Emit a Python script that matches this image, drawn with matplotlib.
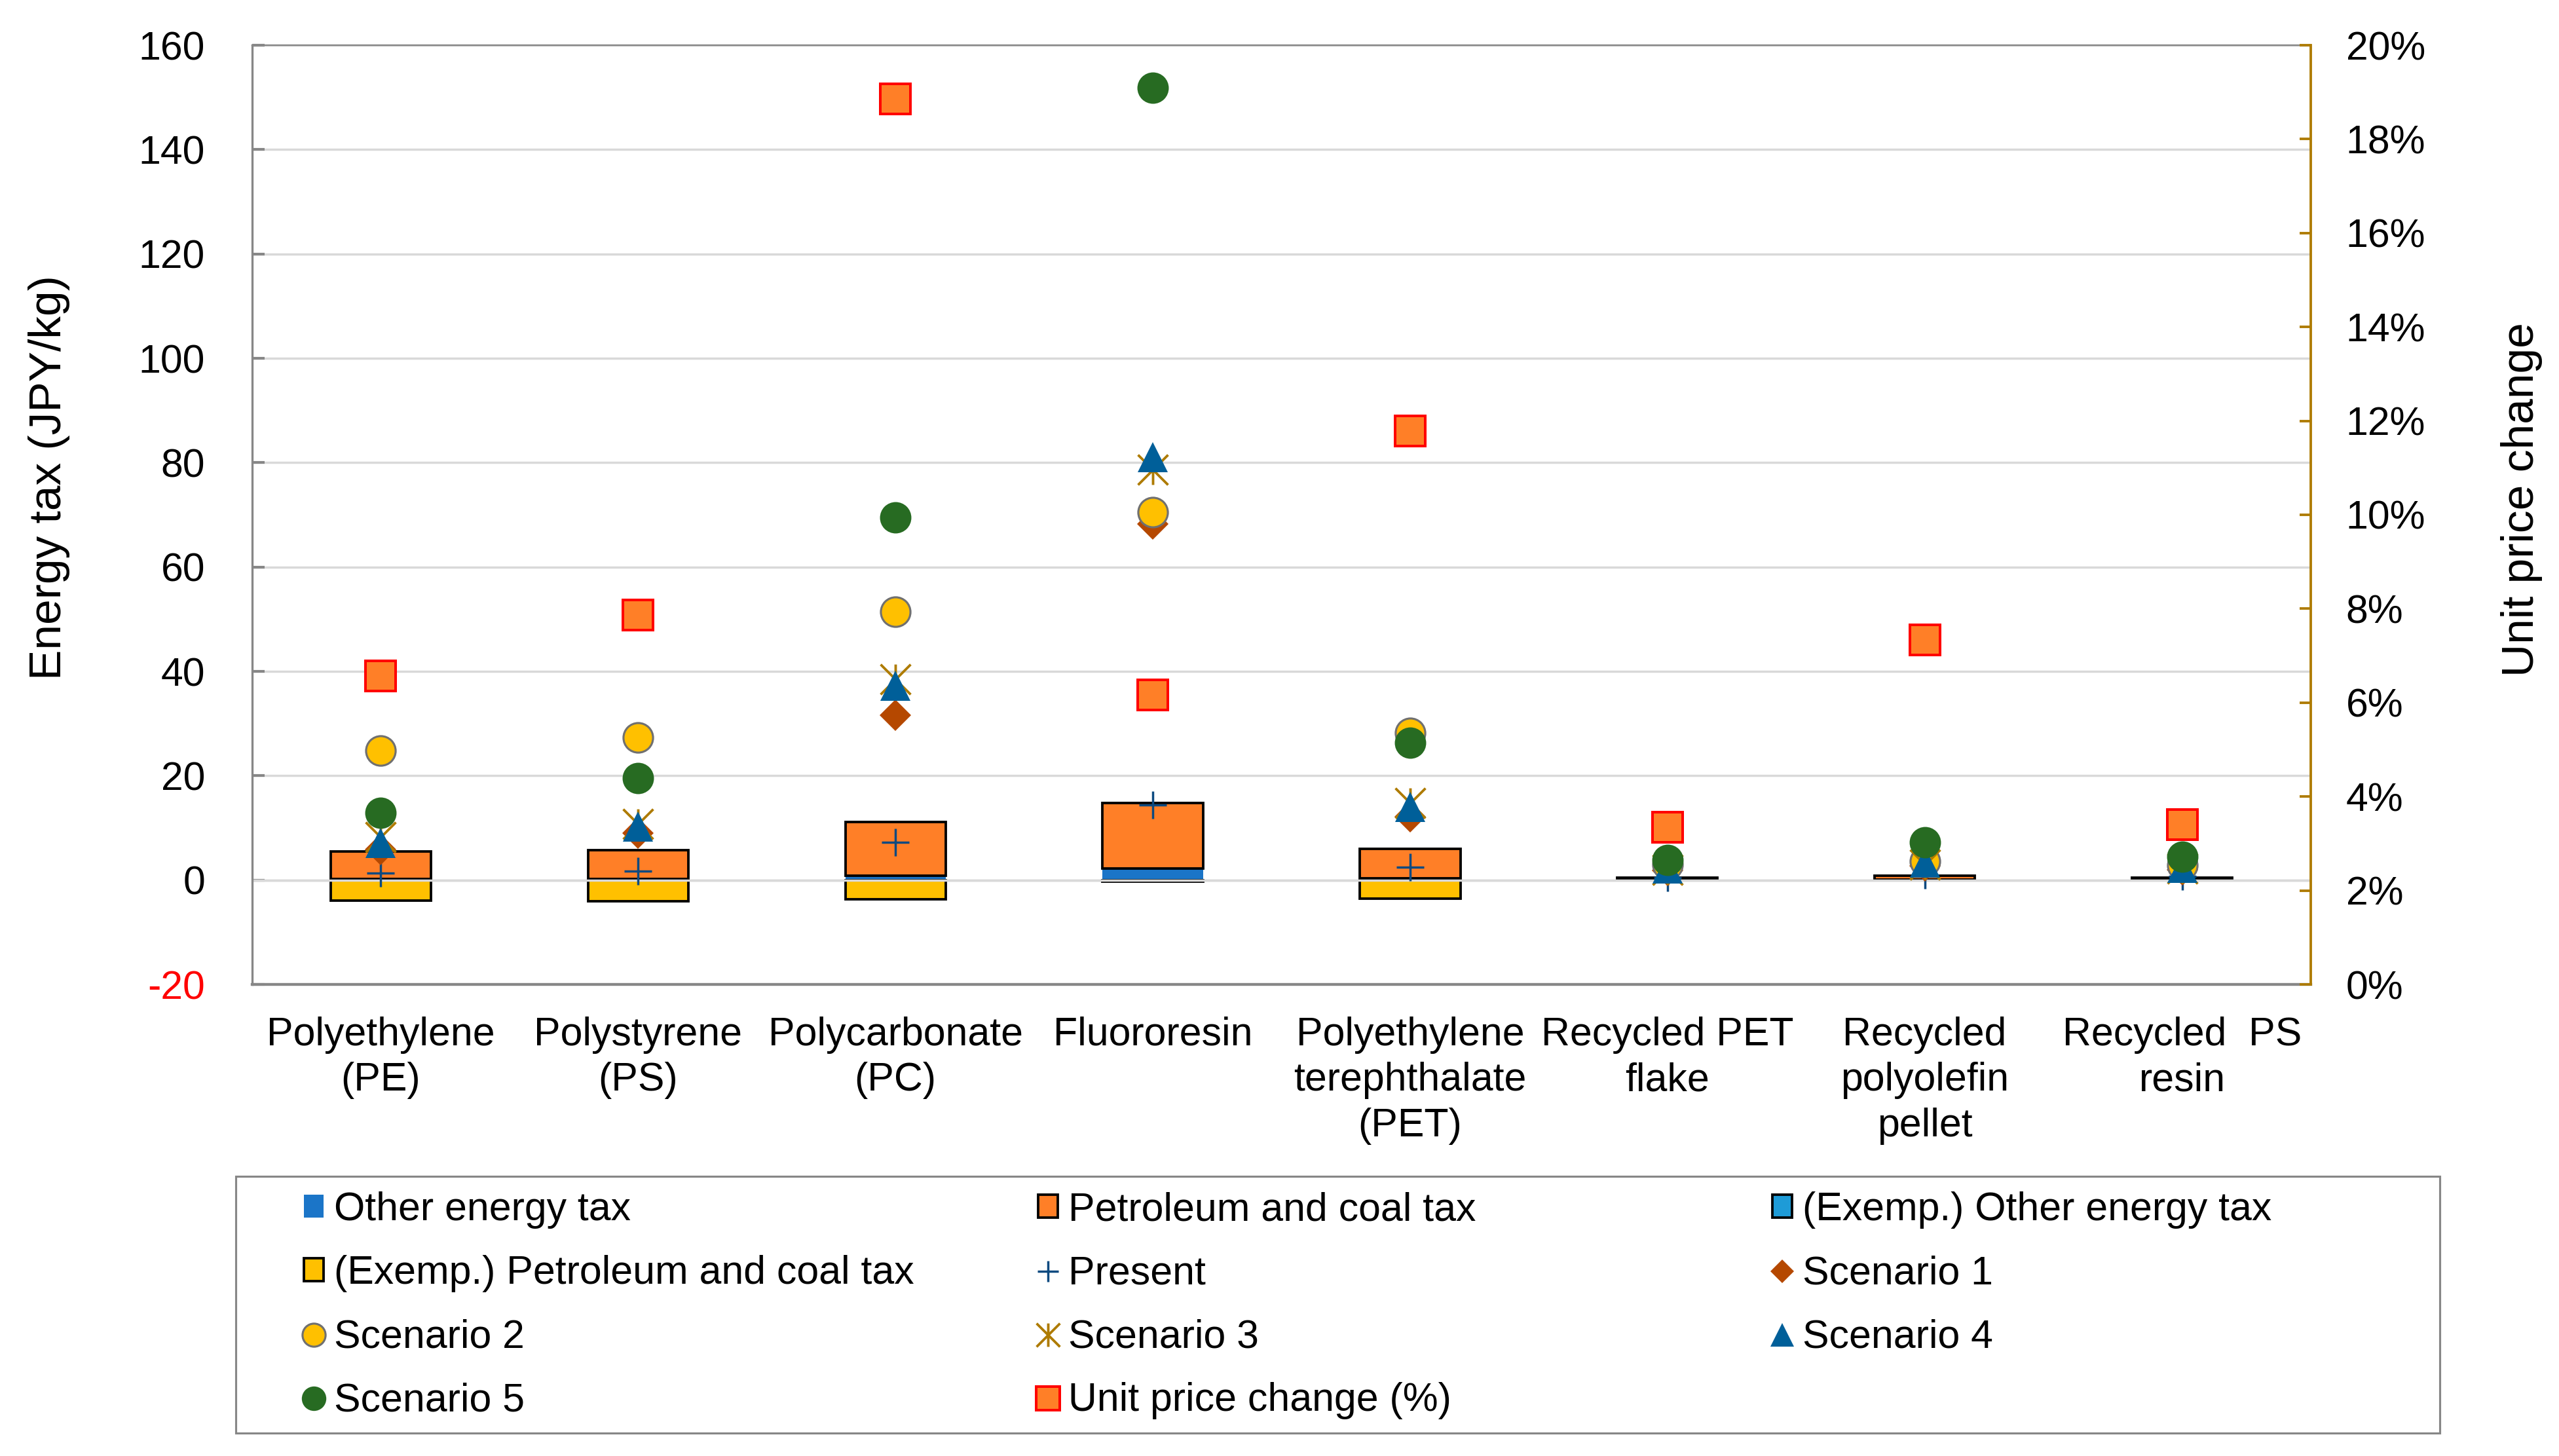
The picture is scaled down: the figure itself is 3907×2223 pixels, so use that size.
import numpy as np
import matplotlib
matplotlib.use("Agg")
import matplotlib.pyplot as plt
from matplotlib.path import Path
from matplotlib.patches import Rectangle
from matplotlib.ticker import FuncFormatter

plt.rcParams['font.family'] = ['Liberation Sans', 'DejaVu Sans']

# ---------------- data ----------------
categories = ["Polyethylene\n(PE)", "Polystyrene\n(PS)", "Polycarbonate\n(PC)", "Fluororesin",
              "Polyethylene\nterephthalate\n(PET)", "Recycled PET\nflake",
              "Recycled\npolyolefin\npellet", "Recycled  PS\nresin"]

other_tax = [0.2, 0.2, 0.8, 2.2, 0.3, 0.1, 0.1, 0.1]
petro_tax = [5.3, 5.5, 10.3, 12.6, 5.7, 0.4, 0.7, 0.4]
ex_other_tax = [0, 0, 0, -0.3, 0, 0, 0, 0]
ex_petro_tax = [-3.95, -4.0, -3.7, 0, -3.5, 0, 0, 0]

present = [1.4, 1.75, 7.2, 14.4, 2.5, 0.5, 1.0, 0.7]
scenario1 = [5.9, 9.0, 31.6, 68.3, 12.1, 1.8, 2.7, 2.0]
scenario2 = [24.8, 27.3, 51.4, 70.5, 28.2, 3.0, 3.6, 2.8]
scenario3 = [8.3, 10.8, 38.5, 78.6, 14.8, 2.0, 3.0, 2.2]
scenario4 = [7.1, 10.3, 37.3, 81.1, 14.0, 2.2, 3.3, 2.4]
scenario5 = [12.9, 19.5, 69.5, 151.8, 26.3, 3.8, 7.3, 4.5]
unit_price_change = [6.57, 7.86, 18.85, 6.16, 11.79, 3.35, 7.34, 3.41]

left_ticks = [-20, 0, 20, 40, 60, 80, 100, 120, 140, 160]
right_ticks = [0, 2, 4, 6, 8, 10, 12, 14, 16, 18, 20]

# ---------------- styles ----------------
W, H, DPI = 3907, 2223, 250
FS = 17.5
C_OTHER = "#1B75C8"
C_ORANGE = "#FF7F27"
C_EXBLUE = "#1E9BD7"
C_YELLOW = "#FFC000"
C_PLUS = "#0D4A80"
C_DIAM = "#B54800"
C_STAR = "#AE7B00"
C_TRI = "#005F99"
C_GREEN = "#276B22"
GRID = "#D9D9D9"
SPINE = "#878787"
GOLD = "#AE7B00"

fig = plt.figure(figsize=(W / DPI, H / DPI), dpi=DPI)
ax = fig.add_axes([385 / W, 1 - 1503 / H, 3143 / W, 1434 / H])

x = np.arange(len(categories))
bw = 0.39


def nz(a):
    a = np.asarray(a, float)
    return np.where(a == 0, np.nan, a)


b1 = ax.bar(x, nz(other_tax), bw, color=C_OTHER, edgecolor='none', linewidth=0,
            zorder=2, label="Other energy tax")
b2 = ax.bar(x, nz(petro_tax), bw, bottom=other_tax, color=C_ORANGE, edgecolor='black',
            linewidth=1.1, zorder=2, label="Petroleum and coal tax")
b3 = ax.bar(x, nz(ex_other_tax), bw, color=C_EXBLUE, edgecolor='black', linewidth=1.1,
            zorder=2, label="(Exemp.) Other energy tax")
b4 = ax.bar(x, nz(ex_petro_tax), bw, bottom=ex_other_tax, color=C_YELLOW, edgecolor='black',
            linewidth=1.1, zorder=2, label="(Exemp.) Petroleum and coal tax")
for cont in (b2, b3, b4):
    for p in cont.patches:
        p.set_joinstyle('miter')

ax.axhline(0, color=GRID, lw=1.0, zorder=2.5)

star = Path([(-1, -1), (1, 1), (-1, 1), (1, -1), (0, -1), (0, 1)],
            [Path.MOVETO, Path.LINETO, Path.MOVETO, Path.LINETO, Path.MOVETO, Path.LINETO])

l_pres, = ax.plot(x, present, ls='none', marker='+', ms=12, mew=1.0, color=C_PLUS,
                  zorder=3, label="Present")
l_s1, = ax.plot(x, scenario1, ls='none', marker='D', ms=9.6, mew=0, color=C_DIAM,
                zorder=3, label="Scenario 1")
l_s2, = ax.plot(x, scenario2, ls='none', marker='o', ms=13, mew=0.9, mfc=C_YELLOW,
                mec="#707070", zorder=3, label="Scenario 2")
l_s3, = ax.plot(x, scenario3, ls='none', marker=star, ms=13.2, mew=1.1, mfc='none',
                mec=C_STAR, color=C_STAR, zorder=3, label="Scenario 3")
l_s4, = ax.plot(x, scenario4, ls='none', marker='^', ms=13.5, mew=0, color=C_TRI,
                zorder=3, label="Scenario 4")
l_s5, = ax.plot(x, scenario5, ls='none', marker='o', ms=13.8, mew=0, color=C_GREEN,
                zorder=3, label="Scenario 5")

ax.set_xlim(-0.5, len(categories) - 0.5)
ax.set_ylim(-20, 160)
ax.set_yticks(left_ticks)
ax.set_yticklabels([str(t) for t in left_ticks])
ax.set_xticks(x)
ax.set_xticklabels(categories, linespacing=1.29)
ax.yaxis.grid(True, color=GRID, lw=1.0)
ax.set_axisbelow(True)

ax.tick_params(axis='y', direction='in', length=5.5, width=1.2, color=SPINE,
               pad=20.7, labelsize=FS)
ax.tick_params(axis='x', length=0, pad=14, labelsize=FS)
for t, lab in zip(left_ticks, ax.get_yticklabels()):
    if t < 0:
        lab.set_color('red')
ax.spines['right'].set_visible(False)
ax.spines['top'].set_color(SPINE)
ax.spines['top'].set_linewidth(0.7)
ax.spines['left'].set_color(SPINE)
ax.spines['left'].set_linewidth(0.95)
ax.spines['bottom'].set_color(SPINE)
ax.spines['bottom'].set_linewidth(1.25)

ax.set_ylabel("Energy tax (JPY/kg)", fontsize=20)
ax.yaxis.label.set_va('center')
ax.yaxis.set_label_coords(-0.0986, 0.540)

ax2 = ax.twinx()
l_unit, = ax2.plot(x, unit_price_change, ls='none', marker='s', ms=13, mfc=C_ORANGE,
                   mec='red', mew=1.15, zorder=3, label="Unit price change (%)")
ax2.set_ylim(0, 20)
ax2.set_yticks(right_ticks)
ax2.yaxis.set_major_formatter(FuncFormatter(lambda v, p: f"{v:.0f}%"))
ax2.tick_params(axis='y', direction='in', length=5, width=1.1, color=GOLD,
                pad=15.5, labelsize=FS)
for s in ('left', 'top', 'bottom'):
    ax2.spines[s].set_visible(False)
ax2.spines['right'].set_color(GOLD)
ax2.spines['right'].set_linewidth(1.1)
ax2.set_ylabel("Unit price change", fontsize=20)
ax2.yaxis.label.set_va('center')
ax2.yaxis.set_label_coords(1.1025, 0.516)

# ---------------- legend ----------------
cols = [[b1, b4, l_s2, l_s5], [b2, l_pres, l_s3, l_unit], [b3, l_s1, l_s4]]
for hs, xl in zip(cols, [464, 1585, 2706]):
    fig.legend(handles=hs, labels=[h.get_label() for h in hs], loc='upper left',
               bbox_to_anchor=(xl / W, 1 - 1819 / H), frameon=False, borderpad=0,
               borderaxespad=0, handlelength=0.5, handleheight=0.5, handletextpad=0.26,
               labelspacing=0.66, markerscale=0.78, fontsize=FS)
fig.add_artist(Rectangle((360 / W, 1 - 2188 / H), (3725 - 360) / W, (2188 - 1796) / H,
                         transform=fig.transFigure, fill=False, edgecolor=SPINE, lw=0.9))

fig.savefig("out.png", dpi=DPI)
